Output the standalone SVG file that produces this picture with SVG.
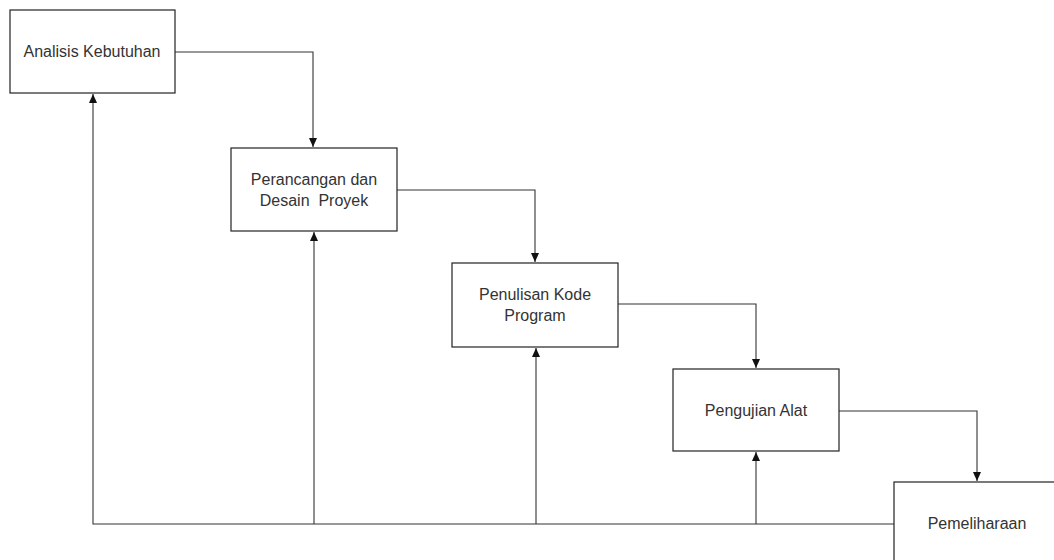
<svg xmlns="http://www.w3.org/2000/svg" width="1054" height="560" viewBox="0 0 1054 560">
<style>
.box{fill:#fff;stroke:#222;stroke-width:1.2}
.lbl{font-family:"Liberation Sans",Arial,sans-serif;font-size:16px;fill:#333;text-anchor:middle}
.conn{fill:none;stroke:#333;stroke-width:1.1}
</style>
<defs>
<marker id="arr" markerUnits="userSpaceOnUse" markerWidth="10" markerHeight="10" refX="9" refY="5" orient="auto">
<path d="M0,1 L9,5 L0,9 Z" fill="#111"/>
</marker>
</defs>
<rect width="1054" height="560" fill="#fff"/>
<g id="connectors">
<path class="conn" d="M175,52 H313 V147" marker-end="url(#arr)"/>
<path class="conn" d="M397,190 H535 V262" marker-end="url(#arr)"/>
<path class="conn" d="M618,304 H756 V368" marker-end="url(#arr)"/>
<path class="conn" d="M839,411 H977 V481" marker-end="url(#arr)"/>
<path class="conn" d="M894,524 H93 V94" marker-end="url(#arr)"/>
<path class="conn" d="M314,524 V232" marker-end="url(#arr)"/>
<path class="conn" d="M536,524 V348" marker-end="url(#arr)"/>
<path class="conn" d="M756,524 V452" marker-end="url(#arr)"/>
</g>
<g id="n1">
<rect class="box" x="10" y="10" width="165" height="83"/>
<text class="lbl" x="92" y="57">Analisis Kebutuhan</text>
</g>
<g id="n2">
<rect class="box" x="231" y="148" width="166" height="83"/>
<text class="lbl" x="314" y="185">Perancangan dan</text>
<text class="lbl" x="314" y="206" xml:space="preserve">Desain  Proyek</text>
</g>
<g id="n3">
<rect class="box" x="452" y="263" width="166" height="84"/>
<text class="lbl" x="535" y="300">Penulisan Kode</text>
<text class="lbl" x="535" y="321">Program</text>
</g>
<g id="n4">
<rect class="box" x="673" y="369" width="166" height="82"/>
<text class="lbl" x="756" y="416">Pengujian Alat</text>
</g>
<g id="n5">
<rect class="box" x="894" y="482" width="166" height="83"/>
<text class="lbl" x="977" y="529">Pemeliharaan</text>
</g>
</svg>
